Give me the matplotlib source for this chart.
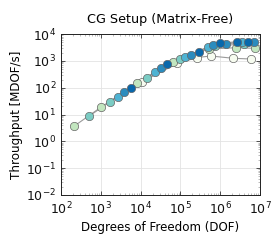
import numpy as np
import matplotlib
matplotlib.use("Agg")
import matplotlib.pyplot as plt
from matplotlib.ticker import LogLocator, NullFormatter

# series values (DOF, MDOF/s)
w_dof = [1.07e4, 8.45e4, 2.61e5, 5.87e5, 2.13e6, 5.84e6]
w_tp = [167, 796, 1330, 1514, 1243, 1170]

g_dof = [216, 1000, 8000, 6.4e4, 5.12e5, 2.45e6, 7.48e6]
g_tp = [3.72, 18.5, 145, 929, 2760, 3080, 2930]

t_dof = [514, 1703, 1.42e4, 9.77e4, 7.4e5, 3.96e6]
t_tp = [8.79, 30, 235, 1170, 3570, 4240]

l_dof = [2660, 2.3e4, 1.33e5, 5.02e5, 3.47e6]
l_tp = [46, 374, 1355, 3420, 5160]

b_dof = [3890, 3.26e4, 1.88e5, 6.71e5, 1.40e6, 7.19e6]
b_tp = [70.7, 527, 1650, 3890, 4420, 5160]

d_dof = [5740, 4.53e4, 2.88e5, 9.89e5, 2.60e6, 4.91e6]
d_tp = [99.7, 743, 2190, 4500, 5160, 5160]

series = [
    (w_dof, w_tp, "#f7fcf0"),
    (g_dof, g_tp, "#c2e6bf"),
    (t_dof, t_tp, "#7bccc4"),
    (l_dof, l_tp, "#4eb3d3"),
    (b_dof, b_tp, "#2b8cbe"),
    (d_dof, d_tp, "#0868ac"),
]

fig = plt.figure(figsize=(2.75, 2.41), dpi=100)
ax = fig.add_axes([61 / 275, 1 - 195 / 241, 199 / 275, 161 / 241])

for dof, tp, col in series:
    ax.plot(dof, tp, color="#9a9a9a", lw=0.8, zorder=2)
for dof, tp, col in series:
    ax.plot(dof, tp, ls="none", marker="o", ms=6.0, mfc=col, mec="#666666",
            mew=0.5, zorder=3)

ax.set_xscale("log")
ax.set_yscale("log")
ax.set_xlim(1e2, 1e7)
ax.set_ylim(1e-2, 1e4)

ax.xaxis.set_major_locator(LogLocator(base=10, numticks=10))
ax.yaxis.set_major_locator(LogLocator(base=10, numticks=10))
ax.xaxis.set_minor_locator(LogLocator(base=10, subs=np.arange(2, 10), numticks=20))
ax.yaxis.set_minor_locator(LogLocator(base=10, subs=np.arange(2, 10), numticks=20))
ax.xaxis.set_minor_formatter(NullFormatter())
ax.yaxis.set_minor_formatter(NullFormatter())

ax.grid(True, which="major", color="#e3e3e3", lw=0.6, zorder=0)
ax.tick_params(which="both", direction="in", top=True, right=True,
               labelsize=9, colors="#111111")
ax.tick_params(which="major", length=3, width=0.5)
ax.tick_params(which="minor", length=1.6, width=0.4, colors="#888888")
ax.tick_params(axis="x", pad=4)
for s in ax.spines.values():
    s.set_linewidth(0.7)
    s.set_color("#222222")

ax.set_title("CG Setup (Matrix-Free)", fontsize=9.2, pad=8)
ax.set_xlabel("Degrees of Freedom (DOF)", fontsize=8.6, labelpad=3)
ax.set_ylabel("Throughput [MDOF/s]", fontsize=8.6, labelpad=2)

fig.savefig("out.png", dpi=100)
